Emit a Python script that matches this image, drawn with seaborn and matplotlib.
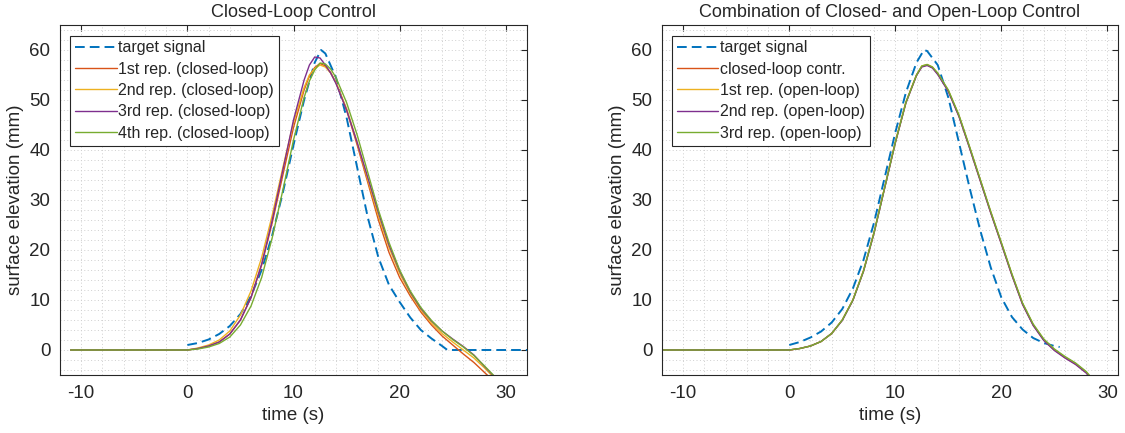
import matplotlib
matplotlib.use("Agg")
import matplotlib.pyplot as plt
from matplotlib.ticker import MultipleLocator
import seaborn as sns

# ---------------------------------------------------------------------------
# Data
# ---------------------------------------------------------------------------
# left panel: closed-loop control
t_target_l = [0, 1, 2, 3, 4, 5, 6, 7, 8, 9, 10, 11, 12, 12.6, 13, 14, 15, 16,
              17, 18, 19, 20, 21, 22, 23, 24, 24.5, 32]
target_l = [1.0, 1.4, 2.1, 3.2, 4.8, 7.2, 10.8, 16, 23, 31.5, 41, 50, 57.5, 60,
            59.3, 54.5, 46.5, 36.5, 26.5, 18.5, 13, 9.6, 6.5, 4, 2.3, 0.8, 0, 0]

t_cl = [-11, 0, 1, 2, 3, 4, 5, 6, 7, 8, 9, 10, 11, 11.5, 12, 12.5, 13, 13.5,
        14, 15, 16, 17, 18, 19, 20, 21, 22, 23, 24, 25, 26, 27, 28, 29]
rep1_cl = [0, 0, 0.3, 0.8, 1.6, 3.2, 6, 10.5, 17, 25.5, 35, 44.5, 52, 54.8,
           56.5, 57.3, 56.8, 55.5, 53.5, 48, 41, 33.5, 26, 19.5, 14.5, 10.8,
           7.6, 5, 2.8, 1, -0.8, -2.5, -4.5, -6.5]
rep2_cl = [0, 0, 0.4, 1, 2, 3.8, 7, 11.8, 18.5, 27, 36.5, 45.5, 52.5, 55,
           56.3, 57, 56.6, 55.4, 53.5, 48.3, 41.5, 34, 26.8, 20.5, 15.3, 11.3,
           8, 5.4, 3.3, 1.6, 0, -1.6, -3.6, -5.8]
rep3_cl = [0, 0, 0.3, 0.8, 1.6, 3.2, 6, 10.5, 17.2, 26, 36, 46, 54, 57,
           58.6, 58.4, 57, 55.4, 53.3, 48, 41.5, 34.5, 27.5, 21, 15.8, 11.6,
           8.3, 5.8, 3.8, 2.2, 0.7, -1, -3.3, -5.5]
rep4_cl = [0, 0, 0.2, 0.6, 1.3, 2.6, 5, 8.8, 14.5, 22.5, 32, 42, 50.5, 53.8,
           56, 57.4, 57.2, 56.2, 54.5, 49.5, 43, 35.5, 28, 21.5, 16, 11.8,
           8.5, 5.9, 3.8, 2.1, 0.6, -1.1, -3.2, -5.4]

# right panel: closed-loop followed by open-loop repetitions
t_target_r = [0, 1, 2, 3, 4, 5, 6, 7, 8, 9, 10, 11, 12, 12.7, 13, 14, 15, 16,
              17, 18, 19, 20, 21, 22, 23, 24, 25, 25.5]
target_r = [1.0, 1.6, 2.5, 3.7, 5.5, 8.2, 12.3, 18, 25.5, 34.5, 43.5, 51.5, 57.5,
            60, 59.8, 57, 50.5, 41.5, 32.5, 24, 16.5, 10.5, 6.6, 4.1, 2.4, 1.4,
            0.8, 0.6]

t_ol = [-12, 0, 1, 2, 3, 4, 5, 6, 7, 8, 9, 10, 11, 12, 12.5, 13, 13.5, 14, 15,
        16, 17, 18, 19, 20, 21, 22, 23, 24, 25, 26, 27, 28, 29]
closed_ol = [0, 0, 0.3, 0.8, 1.7, 3.3, 6, 10, 15.8, 23.5, 32.5, 41.5, 49.5, 55,
             56.7, 57, 56.5, 55.2, 51.8, 46.8, 40.5, 34, 27.5, 21.3, 15, 9.2, 5,
             2.0, 0, -1.5, -2.8, -4.5, -7]
rep1_ol = [0, 0, 0.3, 0.8, 1.7, 3.3, 6, 10, 15.9, 23.6, 32.6, 41.6, 49.6, 55,
           56.8, 57.1, 56.6, 55.3, 51.9, 46.9, 40.6, 34.1, 27.6, 21.4, 15.1, 9.3,
           5.1, 2.1, 0.1, -1.4, -2.7, -4.4, -7]
rep2_ol = [0, 0, 0.3, 0.8, 1.7, 3.3, 5.9, 9.9, 15.7, 23.4, 32.4, 41.4, 49.4, 54.9,
           56.6, 56.9, 56.4, 55.1, 51.7, 46.7, 40.4, 33.9, 27.4, 21.2, 14.9, 9.1,
           4.9, 1.9, -0.1, -1.6, -2.9, -4.6, -7]
rep3_ol = [0, 0, 0.3, 0.8, 1.7, 3.3, 6, 10, 15.8, 23.5, 32.5, 41.5, 49.5, 55,
           56.8, 57.1, 56.6, 55.4, 52, 47, 40.7, 34.2, 27.7, 21.5, 15.2, 9.4,
           5.2, 2.2, 0.2, -1.3, -2.6, -4.3, -6.8]

LABELS_CL = ["target signal", "1st rep. (closed-loop)", "2nd rep. (closed-loop)",
             "3rd rep. (closed-loop)", "4th rep. (closed-loop)"]
LABELS_OL = ["target signal", "closed-loop contr.", "1st rep. (open-loop)",
             "2nd rep. (open-loop)", "3rd rep. (open-loop)"]

# MATLAB default line colours
COLORS = ["#0072BD", "#D95319", "#EDB120", "#7E2F8E", "#77AC30"]

# ---------------------------------------------------------------------------
# Style
# ---------------------------------------------------------------------------
sns.set_theme(style="white")
plt.rcParams["font.family"] = ["Liberation Sans", "DejaVu Sans"]
plt.rcParams["axes.unicode_minus"] = False
plt.rcParams["text.color"] = "#262626"
plt.rcParams["axes.labelcolor"] = "#262626"
plt.rcParams["xtick.color"] = "#262626"
plt.rcParams["ytick.color"] = "#262626"

fig = plt.figure(figsize=(11.25, 4.33), dpi=100)
ax_l = fig.add_axes([60 / 1125, 58 / 433, 467 / 1125, 350 / 433])
ax_r = fig.add_axes([662 / 1125, 58 / 433, 456 / 1125, 350 / 433])


def draw_panel(ax, t_tgt, tgt, t_rep, reps, labels, title, xlim):
    sns.lineplot(x=t_tgt, y=tgt, ax=ax, color=COLORS[0], lw=1.4,
                 linestyle=(0, (5, 2.6)), label=labels[0], sort=False)
    for y, c, lab in zip(reps, COLORS[1:], labels[1:]):
        sns.lineplot(x=t_rep, y=y, ax=ax, color=c, lw=1.0, label=lab, sort=False)

    ax.set_xlim(*xlim)
    ax.set_ylim(-5, 65)
    ax.xaxis.set_major_locator(MultipleLocator(10))
    ax.yaxis.set_major_locator(MultipleLocator(10))
    ax.xaxis.set_minor_locator(MultipleLocator(2))
    ax.yaxis.set_minor_locator(MultipleLocator(2))
    ax.grid(which="both", linestyle=(0, (1, 2.5)), color="#cfcfcf", lw=0.7)
    ax.tick_params(which="major", direction="in", length=4, width=0.8,
                   top=True, right=True, labelsize=13.5, pad=7)
    ax.tick_params(which="minor", length=0)
    for s in ax.spines.values():
        s.set_color("#262626")
        s.set_linewidth(0.8)

    ax.set_title(title, fontsize=13, pad=6)
    ax.set_xlabel("time (s)", fontsize=13.5)
    ax.set_ylabel("surface elevation (mm)", fontsize=13.5)

    leg = ax.legend(loc="upper left", bbox_to_anchor=(0.022, 0.97), fontsize=11.5,
                    frameon=True, fancybox=False, framealpha=1, borderpad=0.3,
                    handlelength=2.6, handletextpad=0.1, labelspacing=0.4,
                    borderaxespad=0)
    leg.get_frame().set_edgecolor("#262626")
    leg.get_frame().set_linewidth(0.8)


draw_panel(ax_l, t_target_l, target_l, t_cl,
           [rep1_cl, rep2_cl, rep3_cl, rep4_cl], LABELS_CL,
           "Closed-Loop Control", (-12, 32))
draw_panel(ax_r, t_target_r, target_r, t_ol,
           [closed_ol, rep1_ol, rep2_ol, rep3_ol], LABELS_OL,
           "Combination of Closed- and Open-Loop Control", (-12, 31))

plt.savefig("out.png", dpi=100)
plt.close()
